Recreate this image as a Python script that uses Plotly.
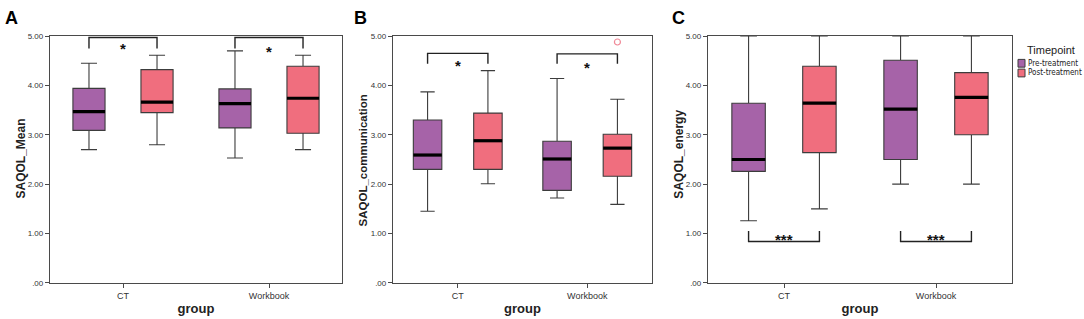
import plotly.graph_objects as go

# ---------------- data ----------------
groups = ["CT", "Workbook"]
timepoints = ["Pre-treatment", "Post-treatment"]
y_tick_vals = [0, 1, 2, 3, 4, 5]
y_tick_text = [".00", "1.00", "2.00", "3.00", "4.00", "5.00"]

# per group: [lower whisker, Q1, median, Q3, upper whisker]
mean_pre = [[2.70, 3.09, 3.47, 3.94, 4.45], [2.53, 3.14, 3.63, 3.93, 4.70]]
mean_post = [[2.80, 3.45, 3.66, 4.32, 4.61], [2.70, 3.03, 3.74, 4.39, 4.61]]
comm_pre = [[1.45, 2.30, 2.59, 3.30, 3.87], [1.72, 1.875, 2.51, 2.87, 4.14]]
comm_post = [[2.01, 2.30, 2.88, 3.44, 4.30], [1.59, 2.16, 2.73, 3.01, 3.72]]
energy_pre = [[1.26, 2.26, 2.50, 3.64, 5.00], [2.00, 2.50, 3.52, 4.51, 5.00]]
energy_post = [[1.50, 2.64, 3.64, 4.39, 5.00], [2.00, 3.00, 3.76, 4.26, 5.00]]

comm_outlier_group = [1]          # Workbook
comm_outlier_value = [4.88]       # post-treatment outlier

# significance brackets: [bar level, leg end] per group
mean_brackets = [[4.97, 4.75], [4.97, 4.75]]
comm_brackets = [[4.65, 4.44], [4.64, 4.44]]
energy_brackets = [[0.84, 1.05], [0.84, 1.05]]
mean_stars = ["*", "*"]
comm_stars = ["*", "*"]
energy_stars = ["***", "***"]
mean_star_y = [4.80, 4.74]
comm_star_y = [4.46, 4.42]
energy_star_y = [0.93, 0.93]

panel_titles = ["SAQOL_Mean", "SAQOL_communication", "SAQOL_energy"]
panel_letters = ["A", "B", "C"]

# ---------------- style ----------------
W, H = 1084, 319
PURPLE = "#a663a8"
PINK = "#f06e7e"
EDGE = "#3c3c3c"
AXIS = "#4a4a4a"
FONT = "Liberation Sans"
OFFSET = 0.233
BOXW = 0.22

panels = [
    (mean_pre, mean_post, mean_brackets, mean_stars, mean_star_y, (50, 342)),
    (comm_pre, comm_post, comm_brackets, comm_stars, comm_star_y, (393, 652)),
    (energy_pre, energy_post, energy_brackets, energy_stars, energy_star_y, (708, 1012)),
]
letter_x = [3, 352, 670]
ytitle_x = [21, 363, 679]
ytitle_y = [159, 161, 155]
ytitle_size = [12, 11.5, 12]
y_top_px, y_bot_px = 33, 287

fig = go.Figure()
shapes = []
annotations = []
layout = {}

for p, (pre, post, brackets, stars, star_y, (xl, xr)) in enumerate(panels):
    sfx = "" if p == 0 else str(p + 1)
    xa, ya = "x" + sfx, "y" + sfx
    pos_pre = [i - OFFSET for i in range(len(groups))]
    pos_post = [i + OFFSET for i in range(len(groups))]
    for data, pos, color, tp in ((pre, pos_pre, PURPLE, timepoints[0]),
                                 (post, pos_post, PINK, timepoints[1])):
        fig.add_trace(go.Box(
            x=pos,
            lowerfence=[d[0] for d in data],
            q1=[d[1] for d in data],
            median=[d[2] for d in data],
            q3=[d[3] for d in data],
            upperfence=[d[4] for d in data],
            width=BOXW, whiskerwidth=0.5,
            fillcolor=color, line=dict(color=EDGE, width=1.1),
            name=tp, showlegend=False, hoverinfo="skip",
            xaxis=xa, yaxis=ya,
        ))
        for d, x in zip(data, pos):
            shapes.append(dict(type="line", xref=xa, yref=ya,
                               x0=x - BOXW / 2, x1=x + BOXW / 2, y0=d[2], y1=d[2],
                               line=dict(color="black", width=3.2), layer="above"))
    # brackets
    for g in range(len(groups)):
        bar, leg = brackets[g]
        fig.add_trace(go.Scatter(
            x=[pos_pre[g], pos_pre[g], pos_post[g], pos_post[g]],
            y=[leg, bar, bar, leg], mode="lines",
            line=dict(color="#222", width=1.4), showlegend=False,
            hoverinfo="skip", xaxis=xa, yaxis=ya))
        annotations.append(dict(x=g, y=star_y[g], xref=xa, yref=ya,
                                text="<b>" + stars[g] + "</b>", showarrow=False,
                                font=dict(family=FONT, size=15, color="#111"),
                                yanchor="middle", yshift=-3))
    if p == 1:
        fig.add_trace(go.Scatter(
            x=[pos_post[g] for g in comm_outlier_group], y=comm_outlier_value,
            mode="markers", marker=dict(symbol="circle-open", size=6,
                                        color="#f08a98", line=dict(width=1.2)),
            showlegend=False, hoverinfo="skip", xaxis=xa, yaxis=ya))

    layout["xaxis" + sfx] = dict(
        domain=[xl / W, xr / W], range=[-0.5, 1.5], anchor=ya,
        tickvals=list(range(len(groups))), ticktext=groups,
        ticks="outside", ticklen=4, tickcolor=AXIS,
        showline=True, linecolor=AXIS, linewidth=1.3, mirror=True,
        showgrid=False, zeroline=False,
        tickfont=dict(family=FONT, size=9, color="#333"),
        title=dict(text="<b>group</b>", font=dict(family=FONT, size=13, color="#222"),
                   standoff=4),
    )
    layout["yaxis" + sfx] = dict(
        domain=[1 - y_bot_px / H, 1 - y_top_px / H], range=[0, 5], anchor=xa,
        tickvals=y_tick_vals, ticktext=y_tick_text,
        ticks="outside", ticklen=4, tickcolor=AXIS,
        showline=True, linecolor=AXIS, linewidth=1.3, mirror=True,
        showgrid=False, zeroline=False,
        tickfont=dict(family=FONT, size=8, color="#333"),
    )
    annotations.append(dict(x=ytitle_x[p] / W, y=1 - ytitle_y[p] / H, xref="paper", yref="paper",
                            text="<b>" + panel_titles[p] + "</b>", showarrow=False,
                            textangle=-90, xanchor="center", yanchor="middle",
                            font=dict(family=FONT, size=ytitle_size[p], color="#222")))
    annotations.append(dict(x=letter_x[p] / W, y=1 - 14 / H, xref="paper", yref="paper",
                            text="<b>" + panel_letters[p] + "</b>", showarrow=False,
                            xanchor="left", yanchor="middle",
                            font=dict(family=FONT, size=18, color="black")))

# manual legend
annotations.append(dict(x=1025 / W, y=1 - 47 / H, xref="paper", yref="paper",
                        text="Timepoint", showarrow=False, xanchor="left",
                        yanchor="middle", font=dict(family=FONT, size=11, color="#222")))
for k, (tp, col) in enumerate(zip(timepoints, [PURPLE, PINK])):
    yc = 61 + k * 10
    shapes.append(dict(type="rect", xref="paper", yref="paper",
                       x0=1018 / W, x1=1025 / W, y0=1 - (yc + 4) / H, y1=1 - (yc - 4) / H,
                       fillcolor=col, line=dict(color=EDGE, width=1)))
    annotations.append(dict(x=1026 / W, y=1 - yc / H, xref="paper", yref="paper",
                            text=tp, showarrow=False, xanchor="left", yanchor="middle",
                            font=dict(family="DejaVu Sans Condensed, DejaVu Sans", size=8,
                                      color="#222")))

fig.update_layout(
    width=W, height=H, margin=dict(l=0, r=0, t=0, b=0),
    paper_bgcolor="white", plot_bgcolor="white",
    showlegend=False, boxmode="overlay",
    shapes=shapes, annotations=annotations, **layout,
)

fig.write_html("out.html", config={"displayModeBar": False},
               post_script="document.body.style.margin='0';document.body.style.overflow='hidden';")
